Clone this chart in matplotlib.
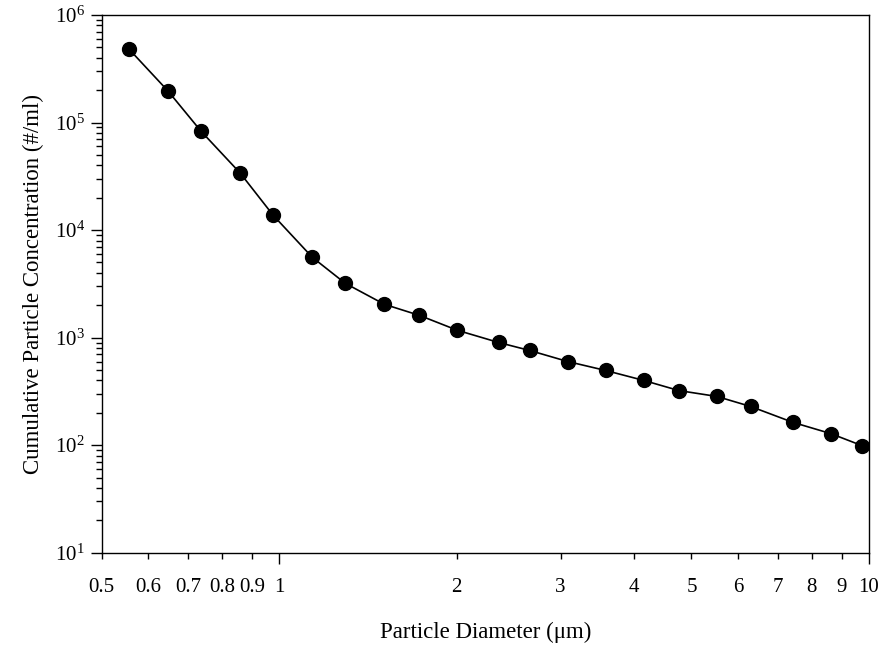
import numpy as np
from matplotlib import pyplot as plt
from matplotlib.ticker import FixedLocator, FixedFormatter, LogLocator, LogFormatterSciNotation, NullFormatter

plt.rcParams['font.family'] = ['Liberation Serif', 'DejaVu Serif']
plt.rcParams['mathtext.fontset'] = 'custom'
plt.rcParams['mathtext.rm'] = 'Liberation Serif'

# particle diameter (um) and cumulative concentration (#/ml)
diameter = [0.556, 0.648, 0.737, 0.859, 0.977, 1.138, 1.294, 1.508, 1.729, 2.005,
            2.354, 2.658, 3.083, 3.577, 4.15, 4.76, 5.52, 6.30, 7.43, 8.62, 9.73]
concentration = [4.83e5, 1.96e5, 8.3e4, 3.38e4, 1.37e4, 5.58e3, 3.2e3, 2.04e3, 1.61e3, 1.17e3,
                 902, 760, 600, 495, 400, 322, 284, 229, 163, 128, 99]

x_major = [1, 10]
x_minor = [0.5, 0.6, 0.7, 0.8, 0.9, 2, 3, 4, 5, 6, 7, 8, 9]

fig = plt.figure(figsize=(8.82, 6.47), dpi=100)
ax = fig.add_axes([0.1153, 0.1457, 0.87, 0.8311])

ax.plot(diameter, concentration, color='black', linewidth=1.2,
        marker='o', markersize=10, markerfacecolor='black', markeredgecolor='black')

ax.set_xscale('log')
ax.set_yscale('log')
ax.set_xlim(0.5, 10)
ax.set_ylim(10, 1e6)

ax.xaxis.set_major_locator(FixedLocator(x_major))
ax.xaxis.set_major_formatter(FixedFormatter([str(v) for v in x_major]))
ax.xaxis.set_minor_locator(FixedLocator(x_minor))
ax.xaxis.set_minor_formatter(FixedFormatter([str(v) for v in x_minor]))

ax.yaxis.set_major_locator(LogLocator(base=10, numticks=10))
ax.yaxis.set_major_formatter(LogFormatterSciNotation())
ax.yaxis.set_minor_locator(LogLocator(base=10, subs=np.arange(2, 10), numticks=10))
ax.yaxis.set_minor_formatter(NullFormatter())

ax.tick_params(which='major', direction='out', length=8, width=1, labelsize=15)
ax.tick_params(which='minor', direction='out', length=4, width=1, labelsize=15)
ax.tick_params(axis='y', which='both', pad=4)
ax.tick_params(axis='x', which='minor', pad=14)
ax.tick_params(axis='x', which='major', pad=10)

for s in ax.spines.values():
    s.set_linewidth(1)

ax.set_xlabel('Particle Diameter (μm)', fontsize=16.5, labelpad=18)
ax.set_ylabel('Cumulative Particle Concentration (#/ml)', fontsize=16.5, labelpad=8)

fig.savefig('out.png', dpi=100)
